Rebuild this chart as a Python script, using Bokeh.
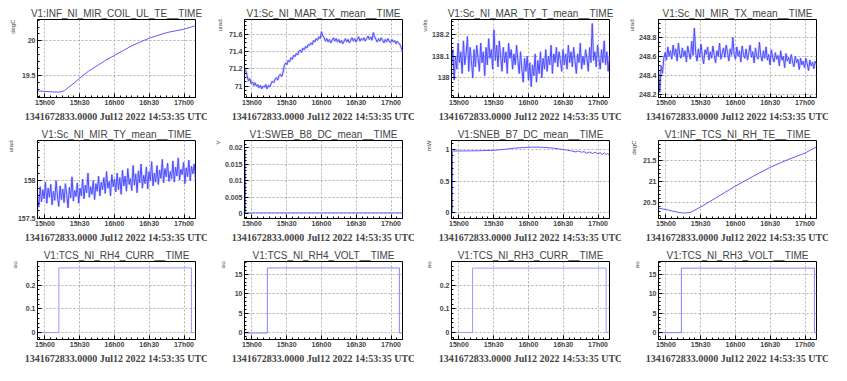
import numpy as np
from bokeh.plotting import figure
from bokeh.layouts import gridplot
from bokeh.models import FixedTicker, Title
from bokeh.embed import file_html
from bokeh.resources import INLINE

# ---------------- data ----------------
T0, T1 = 14.893, 17.165          # hours (14:53:35 -> ~17:10)
x_ticks = [15.0, 15.5, 16.0, 16.5, 17.0]
x_tick_labels = ["15h00", "15h30", "16h00", "16h30", "17h00"]
footer = "1341672833.0000 Jul12 2022 14:53:35 UTC"

titles = ["V1:INF_NI_MIR_COIL_UL_TE__TIME", "V1:Sc_NI_MAR_TX_mean__TIME",
          "V1:Sc_NI_MAR_TY_T_mean__TIME", "V1:Sc_NI_MIR_TX_mean__TIME",
          "V1:Sc_NI_MIR_TY_mean__TIME", "V1:SWEB_B8_DC_mean__TIME",
          "V1:SNEB_B7_DC_mean__TIME", "V1:INF_TCS_NI_RH_TE__TIME",
          "V1:TCS_NI_RH4_CURR__TIME", "V1:TCS_NI_RH4_VOLT__TIME",
          "V1:TCS_NI_RH3_CURR__TIME", "V1:TCS_NI_RH3_VOLT__TIME"]
units = ["degC", "urad", "volts", "urad", "urad", "V", "mW", "degC",
         "au", "au", "au", "au"]

t1 = [14.893, 15.0, 15.1, 15.18, 15.23, 15.28, 15.33, 15.42, 15.5, 15.625,
      15.75, 15.875, 16.0, 16.25, 16.5, 16.75, 17.0, 17.165]
v1 = [19.275, 19.268, 19.262, 19.258, 19.262, 19.28, 19.32, 19.39, 19.46, 19.56,
      19.64, 19.72, 19.79, 19.93, 20.04, 20.12, 20.17, 20.22]

v2 = [71.21, 71.18, 71.12, 71.06, 71.09, 71.03, 71.05, 71.01, 71.04, 71.00,
      71.02, 70.98, 71.01, 70.97, 71.00, 70.99, 71.02, 70.97, 71.01, 70.99,
      71.03, 71.06, 71.04, 71.08, 71.10, 71.07, 71.12, 71.14, 71.11, 71.16,
      71.24, 71.27, 71.25, 71.30, 71.28, 71.33, 71.31, 71.36, 71.34, 71.38,
      71.36, 71.40, 71.42, 71.39, 71.44, 71.42, 71.46, 71.44, 71.48, 71.47,
      71.50, 71.48, 71.53, 71.51, 71.55, 71.53, 71.57, 71.55, 71.63, 71.58,
      71.56, 71.52, 71.55, 71.51, 71.54, 71.50, 71.53, 71.56, 71.52, 71.55,
      71.51, 71.54, 71.50, 71.53, 71.49, 71.52, 71.55, 71.51, 71.54, 71.50,
      71.53, 71.56, 71.52, 71.55, 71.51, 71.54, 71.57, 71.52, 71.55, 71.53,
      71.56, 71.52, 71.55, 71.58, 71.54, 71.57, 71.53, 71.62, 71.57, 71.54,
      71.51, 71.55, 71.52, 71.56, 71.53, 71.50, 71.54, 71.51, 71.55, 71.52,
      71.50, 71.54, 71.51, 71.53, 71.49, 71.52, 71.50, 71.48, 71.45, 71.40]

v3 = [138.05, 138.13, 137.99, 138.10, 138.04, 138.16, 138.07, 138.12, 138.02, 138.17,
      138.06, 138.11, 138.19, 138.03, 138.14, 138.08, 138.00, 138.13, 138.05, 138.15,
      138.09, 138.03, 138.16, 138.07, 138.12, 138.01, 138.14, 138.06, 138.18, 138.09,
      138.13, 138.04, 138.22, 138.08, 138.15, 138.05, 138.17, 138.10, 138.03, 138.14,
      138.07, 138.12, 138.02, 138.16, 138.09, 138.13, 138.04, 138.11, 138.06, 138.15,
      138.08, 138.02, 138.12, 138.04, 137.98, 138.09, 138.03, 138.10, 137.99, 138.07,
      137.96, 138.06, 138.01, 138.11, 137.98, 138.08, 138.02, 138.12, 138.00, 138.09,
      138.04, 138.13, 138.03, 138.10, 138.06, 138.15, 138.02, 138.11, 138.07, 138.14,
      138.05, 138.12, 138.08, 138.03, 138.13, 138.06, 138.11, 138.04, 138.15, 138.07,
      138.12, 138.05, 138.14, 138.08, 138.02, 138.11, 138.07, 138.16, 138.04, 138.10,
      138.06, 138.13, 138.09, 138.03, 138.14, 138.07, 138.25, 138.08, 138.12, 138.05,
      138.15, 138.09, 138.04, 138.13, 138.07, 138.17, 138.06, 138.12, 138.03, 138.10]

v4 = [248.45, 248.22, 248.50, 248.42, 248.58, 248.64, 248.56, 248.70, 248.60, 248.66,
      248.57, 248.72, 248.61, 248.68, 248.55, 248.74, 248.62, 248.58, 248.69, 248.60,
      248.66, 248.54, 248.71, 248.63, 248.57, 248.76, 248.61, 248.90, 248.64, 248.55,
      248.68, 248.59, 248.73, 248.60, 248.52, 248.67, 248.62, 248.70, 248.56, 248.65,
      248.58, 248.71, 248.61, 248.53, 248.66, 248.60, 248.74, 248.57, 248.63, 248.69,
      248.59, 248.72, 248.64, 248.55, 248.68, 248.61, 248.80, 248.62, 248.57, 248.70,
      248.60, 248.66, 248.54, 248.71, 248.62, 248.58, 248.68, 248.56, 248.64, 248.72,
      248.59, 248.65, 248.53, 248.69, 248.60, 248.57, 248.75, 248.61, 248.55, 248.66,
      248.58, 248.70, 248.56, 248.62, 248.51, 248.67, 248.59, 248.54, 248.64, 248.57,
      248.61, 248.50, 248.66, 248.56, 248.60, 248.48, 248.63, 248.55, 248.59, 248.52,
      248.62, 248.54, 248.49, 248.60, 248.53, 248.57, 248.46, 248.58, 248.51, 248.55,
      248.48, 248.58, 248.52, 248.45, 248.56, 248.50, 248.54, 248.47, 248.55, 248.51]

v5 = [157.80, 157.65, 157.92, 157.72, 157.88, 157.76, 157.98, 157.70, 157.90, 157.78,
      157.95, 157.68, 157.86, 157.74, 158.00, 157.80, 157.66, 157.93, 157.75, 157.89,
      157.71, 157.96, 157.82, 157.64, 157.91, 157.77, 158.05, 157.73, 157.87, 157.79,
      157.97, 157.70, 157.90, 157.80, 158.02, 157.76, 157.94, 157.84, 158.10, 157.78,
      157.92, 157.82, 158.00, 157.75, 157.96, 157.86, 158.06, 157.80, 157.98, 157.88,
      158.04, 157.83, 158.12, 157.90, 157.99, 157.80, 158.08, 157.92, 158.02, 157.85,
      158.10, 157.88, 158.04, 157.82, 158.14, 157.93, 158.06, 157.86, 158.16, 157.95,
      158.03, 157.87, 158.20, 157.94, 158.09, 157.84, 158.13, 157.97, 158.22, 157.90,
      158.07, 157.96, 158.18, 157.89, 158.12, 158.00, 158.25, 157.93, 158.10, 157.98,
      158.20, 157.95, 158.14, 158.03, 158.28, 157.97, 158.16, 158.05, 158.23, 157.99,
      158.12, 158.02, 158.26, 157.98, 158.18, 158.06, 158.30, 158.01, 158.15, 158.08,
      158.24, 157.96, 158.17, 158.05, 158.27, 158.00, 158.19, 158.09, 158.22, 158.03]

t6 = [14.893, 14.898, 14.899, 14.900, 14.901, 14.903, 15.0, 16.0, 17.165]
v6 = [0.0, 0.0, 0.019, 0.0005, 0.0125, 0.0003, 0.0003, 0.0003, 0.0003]

t7 = [14.893, 14.905, 14.906, 15.00, 15.25, 15.50, 15.65, 15.80, 15.95, 16.05,
      16.15, 16.25, 16.35, 16.45, 16.55, 16.62, 16.68, 16.72, 16.76, 16.80,
      16.84, 16.88, 16.92, 16.96, 17.00, 17.03, 17.06, 17.09, 17.12, 17.14, 17.165]
v7 = [0.0, 0.0, 0.975, 0.975, 0.978, 0.985, 1.00, 1.02, 1.03, 1.035,
      1.035, 1.03, 1.02, 1.005, 0.99, 0.975, 0.96, 0.975, 0.955, 0.965,
      0.94, 0.96, 0.935, 0.955, 0.93, 0.95, 0.92, 0.945, 0.915, 0.94, 0.90]

t8 = [14.893, 15.0, 15.1, 15.2, 15.27, 15.35, 15.5, 15.75, 16.0, 16.25, 16.5,
      16.75, 17.0, 17.165]
v8 = [20.37, 20.34, 20.30, 20.265, 20.255, 20.27, 20.40, 20.65, 20.90, 21.13,
      21.35, 21.53, 21.69, 21.84]

t9 = [14.893, 15.200, 15.200, 17.107, 17.107, 17.165]
v9 = [0.0, 0.0, 0.272, 0.272, 0.0, 0.0]
t10 = [14.893, 15.222, 15.222, 17.120, 17.120, 17.165]
v10 = [0.0, 0.0, 16.6, 16.6, 0.0, 0.0]
t11 = [14.893, 15.196, 15.196, 17.117, 17.117, 17.165]
v11 = [0.0, 0.0, 0.272, 0.272, 0.0, 0.0]
t12 = [14.893, 15.222, 15.222, 17.135, 17.135, 17.165]
v12 = [0.0, 0.0, 16.6, 16.6, 0.0, 0.0]

y_ranges = [(19.18, 20.31), (70.87, 71.77), (137.91, 138.268), (248.165, 248.99),
            (157.5, 158.53), (-0.0014, 0.0221), (-0.088, 1.14), (20.125, 21.99),
            (-0.029, 0.299), (-1.67, 18.25), (-0.03, 0.30), (-1.76, 18.3)]
y_ticks = [[19.5, 20], [71, 71.2, 71.4, 71.6], [138, 138.1, 138.2],
           [248.2, 248.4, 248.6, 248.8], [157.5, 158], [0, 0.005, 0.01, 0.015, 0.02],
           [0, 0.5, 1], [20.5, 21, 21.5], [0, 0.1, 0.2], [0, 5, 10, 15],
           [0, 0.1, 0.2], [0, 5, 10, 15]]
y_minor = [0.1, 0.05, 0.02, 0.05, 0.1, 0.001, 0.1, 0.1, 0.02, 1, 0.02, 1]

# ---------------- drawing ----------------
tn = np.linspace(T0, T1, len(v2))
series = [(t1, v1, "#5c5cff", False), (tn, v2, "#4d4dff", True),
          (tn, v3, "#4d4dff", True), (tn, v4, "#4d4dff", True),
          (tn, v5, "#4d4dff", True), (t6, v6, "#6a6aff", False),
          (t7, v7, "#5c5cff", False), (t8, v8, "#5c5cff", False),
          (t9, v9, "#9a9aff", False), (t10, v10, "#8080ff", False),
          (t11, v11, "#9a9aff", False), (t12, v12, "#8080ff", False)]

x_minor = list(np.arange(14.917, T1, 1 / 12.0))

FRAME_LEFT = 37


def fmt(v):
    return f"{v:g}"


def label_width(s):
    return sum(1.95 if ch == "." else 3.9 for ch in s)


figs = []
for i in range(12):
    yr = y_ranges[i]
    p = figure(width=207, height=121, x_range=(T0, T1), y_range=yr,
               output_backend="svg", toolbar_location=None,
               min_border_left=FRAME_LEFT, min_border_right=12,
               min_border_top=19, min_border_bottom=0, min_border=0)
    p.title.text = titles[i]
    p.title.align = "center"
    p.title.text_font = "Liberation Sans"
    p.title.text_font_size = "10px"
    p.title.text_font_style = "normal"
    p.title.standoff = 2
    p.outline_line_color = "black"
    p.outline_line_alpha = 1.0
    p.background_fill_color = "white"
    p.border_fill_color = "white"

    step = y_minor[i]
    ym = list(np.arange(np.ceil(yr[0] / step) * step, yr[1], step))
    p.xaxis.ticker = FixedTicker(ticks=x_ticks, minor_ticks=x_minor)
    p.yaxis.ticker = FixedTicker(ticks=y_ticks[i], minor_ticks=ym)
    p.xaxis.major_label_overrides = dict(zip(x_ticks, x_tick_labels))
    ylabels = {t: fmt(t) for t in y_ticks[i]}
    p.yaxis.major_label_overrides = ylabels
    for ax in (p.xaxis[0], p.yaxis[0]):
        ax.major_label_text_font = "Liberation Sans"
        ax.major_label_text_font_size = "7px"
        ax.major_label_text_font_style = "bold"
        ax.major_tick_in = 4
        ax.major_tick_out = 0
        ax.minor_tick_in = 2
        ax.minor_tick_out = 0
        ax.axis_line_color = "black"
        ax.major_label_standoff = 2
        ax.axis_label_standoff = 0
    p.xaxis.major_label_standoff = 1
    p.grid.grid_line_color = "#b0b0b0"
    p.grid.grid_line_dash = "2 2"
    p.grid.grid_line_width = 1

    xs, ys, c, noisy = series[i]
    if noisy:
        p.line(list(xs), ys, color=c, line_width=2.5, line_alpha=0.25)
    p.line(list(xs), ys, color=c, line_width=1)

    # unit label at top-left, rotated (ROOT style)
    axis_w = 4 + max(label_width(s) for s in ylabels.values())
    sto = max(0, FRAME_LEFT - axis_w - 14)
    p.add_layout(Title(text=units[i], align="right", text_font="Liberation Sans",
                       text_font_size="6px", text_font_style="normal",
                       standoff=sto), "left")
    # footer under the axis
    p.add_layout(Title(text=footer, align="center", offset=-11,
                       text_font="Liberation Serif", text_font_style="bold",
                       text_font_size="10px", standoff=0), "below")
    figs.append(p)

grid = gridplot(figs, ncols=4, toolbar_location=None)
open("out.html", "w").write(file_html(grid, INLINE))
